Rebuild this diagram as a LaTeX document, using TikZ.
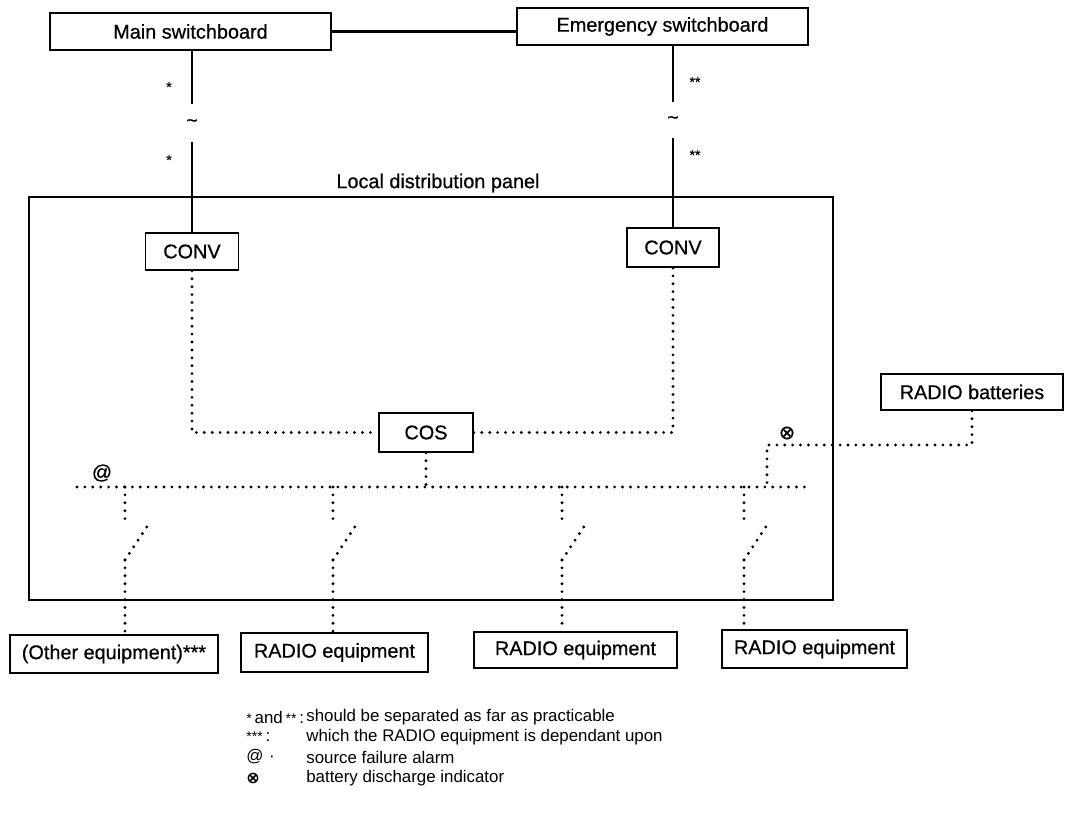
\documentclass[tikz,border=0pt]{standalone}
\usepackage{fontspec}
\setmainfont{Liberation Sans}
\newfontfamily\heavy[FakeBold=0.6]{Liberation Sans}
\newfontfamily\symb[FakeBold=0.8]{DejaVu Sans}
\usetikzlibrary{positioning}

\begin{document}
\begin{tikzpicture}[
    x=0.02cm, y=-0.02cm,
    board/.style={draw, line width=1pt, inner sep=0pt, font=\heavy\fontsize{11.3}{13}\selectfont},
    wire/.style={line width=1.3pt},
    dotline/.style={line width=1.8pt, line cap=round, dash pattern=on 0pt off 4.5pt},
    marker/.style={inner sep=0pt, font=\heavy\fontsize{8}{9}\selectfont},
    legend/.style={anchor=west, inner sep=0pt, font=\fontsize{9.6}{11}\selectfont}
]
    \useasboundingbox (0,0) rectangle (1083,828);
    % Switchboards along the top, joined by a solid line
    \node[board, minimum width=5.62cm, minimum height=0.74cm] (main) at (190.5,31.5) {Main switchboard};
    \node[board, minimum width=5.82cm, minimum height=0.74cm] (emerg) at (662.5,26.5) {Emergency switchboard};
    \draw[wire] (main.east) -- (main.east -| emerg.west);

    % Local distribution panel
    \draw[line width=1.1pt] (29,197) rectangle (833,600);
    \node[font=\heavy\fontsize{11.3}{13}\selectfont] (panel) at (438,183) {Local distribution panel};

    % Converters fed from both switchboards
    \node[board, minimum width=1.86cm, minimum height=0.74cm] (convM) at (192,251.5) {CONV};
    \node[board, minimum width=1.84cm, minimum height=0.78cm] (convE) at (673,247.5) {CONV};
    \node[marker, minimum height=21pt, font=\heavy\fontsize{11}{13}\selectfont] (acM) at (192,123) {\textasciitilde};
    \node[marker, minimum height=19.8pt, font=\heavy\fontsize{11}{13}\selectfont] (acE) at (673,120) {\textasciitilde};
    \draw[wire] (convM.north |- main.south) -- (acM) -- (convM);
    \draw[wire] (convE.north |- emerg.south) -- (acE) -- (convE);
    \node[marker] (starM1) at (169,87) {*};
    \node[marker] (starM2) at (169,160) {*};
    \node[marker] (starE1) at (695,82) {**};
    \node[marker] (starE2) at (695,155) {**};

    % Change-over switch and the bus
    \node[board, minimum width=1.88cm, minimum height=0.78cm] (cos) at (426,432.5) {COS};
    \draw[dotline] (convM.south) |- (cos.west);
    \draw[dotline] (cos.east) -| (convE.south);
    \coordinate (busL) at (77,487);
    \coordinate (busR) at (810,487);
    \draw[dotline] (busL) -- (busR);
    \draw[dotline] (cos.south) -- (cos.south |- busL);
    \node[font=\heavy\fontsize{11.3}{13}\selectfont] (alarm) at (102,473) {@};

    % Consumers, each behind a switch
    \node[board, minimum width=4.16cm, minimum height=0.76cm] (other) at (114,654) {(Other equipment)***};
    \node[board, minimum width=3.74cm, minimum height=0.78cm] (radioA) at (334.5,652.5) {RADIO equipment};
    \node[board, minimum width=4.06cm, minimum height=0.72cm] (radioB) at (575.5,650) {RADIO equipment};
    \node[board, minimum width=3.70cm, minimum height=0.76cm] (radioC) at (814.5,649) {RADIO equipment};
    \foreach \x/\eq in {125/other, 333/radioA, 562/radioB, 744/radioC} {
        \coordinate (sw\eq) at (\x,560);
        \draw[dotline] (sw\eq |- busL) -- (\x,521);
        \draw[dotline] (sw\eq) -- ++(23,-35);
        \draw[dotline] (sw\eq) -- (sw\eq |- \eq.north);
    }

    % Batteries joined to the bus
    \node[board, minimum width=3.64cm, minimum height=0.72cm] (bat) at (972,392) {RADIO batteries};
    \coordinate (batknee) at (767,445);
    \draw[dotline] (bat.south) |- (batknee) -- (batknee |- busR);
    \node[font=\symb\fontsize{11}{13}\selectfont] (discharge) at (787,433) {⊗};

    % Key
    \node[legend] (keyA) at (246,717) {{\fontsize{8}{9}\selectfont *}\,and\,{\fontsize{8}{9}\selectfont **}\,:};
    \node[legend] (keyB) at (246,737) {{\fontsize{8}{9}\selectfont ***}\,:};
    \node[legend] (keyC) at (246,757) {@\,\,·};
    \node[legend] (keyD) at (246,778) {{\symb\fontsize{9}{11}\selectfont ⊗}};
    \node[legend] (textA) at (306,717) {should be separated as far as practicable};
    \node[legend] (textB) at (306,737) {which the RADIO equipment is dependant upon};
    \node[legend] (textC) at (306,757) {source failure alarm};
    \node[legend] (textD) at (306,778) {battery discharge indicator};
\end{tikzpicture}
\end{document}
